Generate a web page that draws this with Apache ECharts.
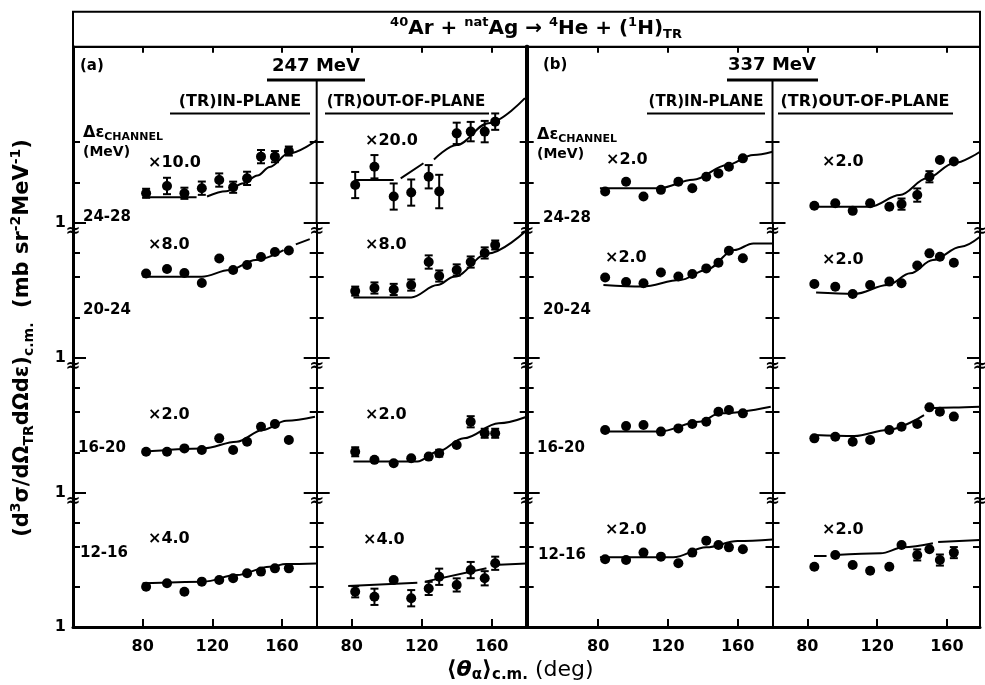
<!DOCTYPE html>
<html>
<head>
<meta charset="utf-8">
<script src="https://cdn.jsdelivr.net/npm/echarts@6.0.0/dist/echarts.min.js"></script>
<style>
  html, body { margin: 0; padding: 0; background: #fff; }
  #chart { width: 985px; height: 685px; }
</style>
</head>
<body>
<div id="chart"></div>
<script>
const FONT = 'DejaVu Sans';

const channels = ['24-28', '20-24', '16-20', '12-16'];
const xTickValues = [80, 120, 160];
const yTickTop = [2, 4];
const yTickValues = [2, 4, 6];

// alpha angles of the points (deg), one list per column
const angA_in = [82, 94, 104, 114, 124, 132, 140, 148, 156, 164];
const angA_out = [82, 93, 104, 114, 124, 130, 140, 148, 156, 162];
const angB_in = [84, 96, 106, 116, 126, 134, 142, 149, 155, 163];
const angB_out = [84, 96, 106, 116, 127, 134, 143, 150, 156, 164];

// plotted cross sections, rows = channels 24-28, 20-24, 16-20, 12-16
const valA_in = [
  [1.66, 1.88, 1.66, 1.81, 2.08, 1.84, 2.14, 3.1, 3.1, 3.41],
  [4.23, 4.56, 4.26, 3.59, 5.46, 4.49, 4.89, 5.6, 6.1, 6.26],
  [2.02, 2.02, 2.14, 2.08, 2.54, 2.08, 2.4, 3.1, 3.24, 2.47],
  [2.0, 2.12, 1.83, 2.18, 2.24, 2.31, 2.52, 2.59, 2.74, 2.74]
];
const valA_out = [
  [1.91, 2.61, 1.57, 1.68, 2.2, 1.71, 4.61, 4.75, 4.75, 5.63],
  [3.13, 3.3, 3.22, 3.47, 5.14, 4.05, 4.49, 5.14, 6.0, 6.87],
  [2.02, 1.76, 1.66, 1.81, 1.86, 1.97, 2.27, 3.37, 2.77, 2.77],
  [1.83, 1.68, 2.24, 1.64, 1.94, 2.37, 2.06, 2.66, 2.31, 2.99]
];
const valB_in = [
  [1.71, 2.02, 1.57, 1.76, 2.02, 1.81, 2.2, 2.33, 2.61, 3.01],
  [3.95, 3.66, 3.58, 4.3, 4.01, 4.19, 4.61, 5.08, 6.23, 5.48],
  [2.93, 3.13, 3.19, 2.85, 3.01, 3.24, 3.37, 4.0, 4.12, 3.89],
  [3.2, 3.16, 3.59, 3.35, 2.99, 3.59, 4.41, 4.09, 3.93, 3.8]
];
const valB_out = [
  [1.34, 1.4, 1.23, 1.4, 1.32, 1.38, 1.61, 2.2, 2.93, 2.85],
  [3.53, 3.37, 2.98, 3.47, 3.68, 3.58, 4.84, 5.96, 5.63, 5.08],
  [2.54, 2.61, 2.4, 2.47, 2.93, 3.1, 3.24, 4.31, 4.0, 3.68],
  [2.82, 3.45, 2.9, 2.63, 2.82, 4.09, 3.45, 3.8, 3.16, 3.59]
];

// error bars as a factor (value / f .. value * f), 1 = no bar drawn
const errA_in = [
  [1.08, 1.15, 1.1, 1.12, 1.12, 1.1, 1.12, 1.12, 1.1, 1.08],
  [1, 1, 1, 1, 1, 1, 1, 1, 1, 1],
  [1, 1, 1, 1, 1, 1, 1, 1, 1, 1],
  [1, 1, 1, 1, 1, 1, 1, 1, 1, 1]
];
const errA_out = [
  [1.25, 1.22, 1.25, 1.25, 1.22, 1.33, 1.2, 1.18, 1.2, 1.15],
  [1.08, 1.1, 1.1, 1.1, 1.12, 1.1, 1.1, 1.1, 1.1, 1.08],
  [1.08, 1, 1, 1, 1, 1.06, 1, 1.1, 1.08, 1.08],
  [1.1, 1.15, 1, 1.15, 1.12, 1.15, 1.12, 1.15, 1.13, 1.12]
];
const errB_in = [
  [1, 1, 1, 1, 1, 1, 1, 1, 1, 1],
  [1, 1, 1, 1, 1, 1, 1, 1, 1, 1],
  [1, 1, 1, 1, 1, 1, 1, 1, 1, 1],
  [1, 1, 1, 1, 1, 1, 1, 1, 1, 1]
];
const errB_out = [
  [1, 1, 1, 1, 1, 1.1, 1.12, 1.1, 1, 1],
  [1, 1, 1, 1, 1, 1, 1, 1, 1, 1],
  [1, 1, 1, 1, 1, 1, 1, 1, 1, 1],
  [1, 1, 1, 1, 1, 1, 1.1, 1, 1.1, 1.1]
];

// fitted curves [deg, value], null value = gap in the drawn line
const fitA_in = [
  [[80, 1.55], [111, 1.55], [114, null], [117, 1.57], [128, 1.72], [138, 1.97], [146, 2.25], [153, 2.6], [164, 3.28], [180, 4.1]],
  [[80, 4.0], [114, 4.0], [130, 4.49], [145, 5.32], [161, 6.3], [165, null], [168, 6.95], [176, 7.6]],
  [[80, 2.02], [115, 2.14], [134, 2.4], [149, 2.93], [162.6, 3.43], [179, 3.67]],
  [[80, 2.12], [115, 2.18], [134, 2.44], [153, 2.82], [162.6, 2.95], [180, 2.98]]
];
const fitA_out = [
  [[82, 2.08], [104, 2.08], [106, null], [108, 2.14], [121, 2.77], [124, null], [127, 2.95], [140, 3.78], [158, 5.48], [179, 8.4]],
  [[81, 2.81], [114, 2.81], [129, 3.47], [138.5, 4.0], [158, 5.95], [179, 8.6]],
  [[81, 1.71], [117.5, 1.71], [129, 2.02], [144, 2.54], [164, 3.28], [180, 3.67]],
  [[78, 2.02], [117.5, 2.14], [120, null], [122, 2.18], [157, 2.74], [159, null], [161, 2.9], [180, 2.98]]
];
const fitB_in = [
  [[81, 1.81], [115, 1.81], [134.5, 2.09], [154, 2.69], [169, 3.19], [180, 3.37]],
  [[83, 3.47], [105.5, 3.38], [127, 3.78], [142, 4.49], [158, 6.3], [169, 7.06], [180, 7.06]],
  [[83, 2.85], [115, 2.85], [138, 3.37], [150, 3.89], [179, 4.36]],
  [[81, 3.31], [123, 3.31], [142, 3.93], [160, 4.38], [180, 4.5]]
];
const fitB_out = [
  [[84, 1.32], [116, 1.32], [133, 1.61], [148.6, 2.14], [164, 2.77], [179, 3.37]],
  [[85, 3.05], [107, 2.98], [126, 3.47], [139, 4.24], [152, 5.32], [168, 6.67], [179, 7.9]],
  [[84, 2.69], [107, 2.64], [126, 2.93], [146.9, 3.78], [147.3, null], [147.8, 4.24], [164, 4.3], [179, 4.36]],
  [[83.8, 3.39], [91, 3.39], [93, null], [96, 3.45], [122, 3.55], [135, 3.93], [152, 4.21], [154, null], [155, 4.3], [179, 4.46]]
];

const multA_in = ['×10.0', '×8.0', '×2.0', '×4.0'];
const multA_out = ['×20.0', '×8.0', '×2.0', '×4.0'];
const multB_in = ['×2.0', '×2.0', '', '×2.0'];
const multB_out = ['×2.0', '×2.0', '', '×2.0'];

const columns = [
  { ang: angA_in, val: valA_in, err: errA_in, fit: fitA_in, mult: multA_in },
  { ang: angA_out, val: valA_out, err: errA_out, fit: fitA_out, mult: multA_out },
  { ang: angB_in, val: valB_in, err: errB_in, fit: fitB_in, mult: multB_in },
  { ang: angB_out, val: valB_out, err: errB_out, fit: fitB_out, mult: multB_out }
];

// layout (pixels)
const colBox = [
  { left: 73, width: 243.7, min: 40, max: 180, lineL: 3, lineR: 2 },
  { left: 316.7, width: 210, min: 60, max: 180, lineL: 2, lineR: 4 },
  { left: 526.7, width: 245.8, min: 39, max: 180, lineL: 4, lineR: 2 },
  { left: 772.5, width: 207.5, min: 60, max: 179, lineL: 2, lineR: 2 }
];
const rowBox = [
  { top: 46.7, height: 176.3, max: 20.2 },
  { top: 223, height: 135, max: 10 },
  { top: 358, height: 135, max: 10 },
  { top: 493, height: 134, max: 10 }
];
const multPos = [
  [[148, 163], [148, 245], [148, 415], [148, 539]],
  [[365, 141], [365, 245], [365, 415], [363, 540]],
  [[606, 160], [605, 258], [0, 0], [605, 530]],
  [[822, 162], [822, 260], [0, 0], [822, 530]]
];
const chanPos = [
  [[83, 217], [83, 310], [78, 448], [80, 553]],
  [[543, 218], [543, 310], [537, 448], [538, 555]]
];

const black = '#000';

function renderErr(params, api) {
  const x = api.value(0);
  const lo = api.coord([x, api.value(1)]);
  const hi = api.coord([x, api.value(2)]);
  const w = 4;
  const st = { stroke: black, lineWidth: 2 };
  return {
    type: 'group',
    children: [
      { type: 'line', shape: { x1: lo[0], y1: lo[1], x2: hi[0], y2: hi[1] }, style: st },
      { type: 'line', shape: { x1: lo[0] - w, y1: lo[1], x2: lo[0] + w, y2: lo[1] }, style: st },
      { type: 'line', shape: { x1: hi[0] - w, y1: hi[1], x2: hi[0] + w, y2: hi[1] }, style: st }
    ]
  };
}

const grid = [], xAxis = [], yAxis = [], series = [];

rowBox.forEach((rb, r) => {
  colBox.forEach((cb, c) => {
    const g = grid.length;
    grid.push({ left: cb.left, top: rb.top, width: cb.width, height: rb.height });

    const bottom = r === 3;
    const xi = xAxis.length;
    xAxis.push({
      type: 'value', gridIndex: g, min: cb.min, max: cb.max, position: 'bottom',
      axisLine: { show: bottom, onZero: false, lineStyle: { color: black, width: 3 } },
      axisTick: { show: bottom, inside: true, length: 8, customValues: xTickValues, lineStyle: { color: black, width: 2 } },
      axisLabel: { show: bottom, customValues: xTickValues, margin: 12, color: black, fontFamily: FONT, fontWeight: 'bold', fontSize: 16 },
      splitLine: { show: false }
    });
    if (r === 0) {
      xAxis.push({
        type: 'value', gridIndex: g, min: cb.min, max: cb.max, position: 'top',
        axisLine: { show: true, onZero: false, lineStyle: { color: black, width: 2 } },
        axisTick: { show: true, inside: true, length: 6, customValues: xTickValues, lineStyle: { color: black, width: 2 } },
        axisLabel: { show: false },
        splitLine: { show: false }
      });
    }

    const ticks = r === 0 ? yTickTop : yTickValues;
    const hideL = r === 0 && (c === 1 || c === 3);
    const hideR = r === 0 && (c === 0 || c === 2);
    const base = { type: 'log', gridIndex: g, min: 1, max: rb.max, splitLine: { show: false } };

    const yi = yAxis.length;
    yAxis.push(Object.assign({}, base, {
      position: 'left',
      axisLine: { show: !hideL, onZero: false, lineStyle: { color: black, width: cb.lineL } },
      axisTick: { show: true, inside: true, length: 7, customValues: ticks, lineStyle: { color: black, width: 2 } },
      axisLabel: { show: false }
    }));
    yAxis.push(Object.assign({}, base, {
      position: 'left',
      axisLine: { show: false },
      axisTick: { show: true, inside: true, length: 13, customValues: [1], lineStyle: { color: black, width: 2 } },
      axisLabel: { show: c === 0, customValues: [1], margin: 7, color: black, fontFamily: FONT, fontWeight: 'bold', fontSize: 16 }
    }));
    yAxis.push(Object.assign({}, base, {
      position: 'right',
      axisLine: { show: !hideR, onZero: false, lineStyle: { color: black, width: cb.lineR } },
      axisTick: { show: true, inside: true, length: 7, customValues: ticks, lineStyle: { color: black, width: 2 } },
      axisLabel: { show: false }
    }));
    yAxis.push(Object.assign({}, base, {
      position: 'right',
      axisLine: { show: false },
      axisTick: { show: true, inside: true, length: 13, customValues: [1], lineStyle: { color: black, width: 2 } },
      axisLabel: { show: false }
    }));

    const p = columns[c];
    series.push({
      type: 'line', xAxisIndex: xi, yAxisIndex: yi, data: p.fit[r],
      smooth: 0.35, smoothMonotone: 'x', showSymbol: false, connectNulls: false,
      lineStyle: { color: black, width: 2 }, silent: true, z: 2
    });
    const errData = [];
    p.ang.forEach((a, i) => {
      const f = p.err[r][i];
      if (f > 1) errData.push([a, p.val[r][i] / f, p.val[r][i] * f]);
    });
    series.push({
      type: 'custom', xAxisIndex: xi, yAxisIndex: yi, data: errData,
      renderItem: renderErr, encode: { x: 0, y: [1, 2] }, silent: true, z: 3
    });
    series.push({
      type: 'scatter', xAxisIndex: xi, yAxisIndex: yi,
      data: p.ang.map((a, i) => [a, p.val[r][i]]),
      symbol: 'circle', symbolSize: 10, itemStyle: { color: black, opacity: 1 }, silent: true, z: 4
    });
  });
});

// texts and frame decorations
const graphic = [];
function txt(x, y, text, font, align, extra) {
  graphic.push(Object.assign({
    type: 'text', x: x, y: y, silent: true,
    style: Object.assign({
      text: text, fill: black, font: font,
      align: align || 'left', verticalAlign: 'middle',
      textAlign: align || 'left', textVerticalAlign: 'middle'
    }, (extra && extra.style) || {})
  }, extra && extra.rotation ? { rotation: extra.rotation } : {}));
}
function line(x1, y1, x2, y2, w) {
  graphic.push({ type: 'line', silent: true, shape: { x1, y1, x2, y2 }, style: { stroke: black, lineWidth: w } });
}

graphic.push({ type: 'rect', silent: true, shape: { x: 73, y: 11.7, width: 907, height: 35 },
  style: { fill: 'none', stroke: black, lineWidth: 2 } });

const sup = { fontFamily: FONT, fontWeight: 'bold', fontSize: 13, lineHeight: 13, verticalAlign: 'top' };
const sub = { fontFamily: FONT, fontWeight: 'bold', fontSize: 13, lineHeight: 13, verticalAlign: 'bottom' };
const mid = { fontFamily: FONT, fontWeight: 'bold', fontSize: 20, lineHeight: 25 };

txt(536, 29, '{n|40}{m|Ar + }{n|nat}{m|Ag → }{n|4}{m|He + (}{n|1}{m|H)}{s|TR}', 'bold 20px ' + FONT, 'center',
  { style: { rich: { n: sup, m: mid, s: sub } } });

const boldF = (s) => 'bold ' + s + 'px ' + FONT;
txt(80, 66, '(a)', boldF(15));
txt(543, 65, '(b)', boldF(15));
txt(316, 66, '247 MeV', boldF(18), 'center');
txt(772, 65, '337 MeV', boldF(18), 'center');
line(267, 80, 365, 80, 3);
line(727, 80, 818, 80, 3);
line(316.7, 80, 316.7, 223, 2);
line(772.5, 80, 772.5, 223, 2);

const headers = [
  [240, 170, 310, '(TR)IN-PLANE', 16], [406, 325, 489, '(TR)OUT-OF-PLANE', 15],
  [706, 647, 765, '(TR)IN-PLANE', 15], [865, 778, 953, '(TR)OUT-OF-PLANE', 16]
];
headers.forEach(h => {
  txt(h[0], 102, h[3], boldF(h[4]), 'center');
  line(h[1], 113.5, h[2], 113.5, 2);
});

const big = { fontFamily: FONT, fontWeight: 'bold', fontSize: 16, lineHeight: 20 };
const small = { fontFamily: FONT, fontWeight: 'bold', fontSize: 11, lineHeight: 12, verticalAlign: 'bottom' };
[[83, 133], [537, 135]].forEach(pos => {
  txt(pos[0], pos[1], '{a|Δε}{b|CHANNEL}', boldF(16), 'left', { style: { rich: { a: big, b: small } } });
  txt(pos[0], pos[1] + 19, '(MeV)', boldF(14));
});

chanPos.forEach(side => side.forEach((pos, r) => txt(pos[0], pos[1], channels[r], boldF(15))));

columns.forEach((p, c) => p.mult.forEach((m, r) => {
  if (m) txt(multPos[c][r][0], multPos[c][r][1], m, boldF(16));
}));

const breakX = [73, 316.7, 526.7, 772.5, 980];
const breakY = [231, 366, 501];
breakX.forEach(x => breakY.forEach(y => txt(x, y, '≈', boldF(18), 'center')));

// axis titles
const ym = { fontFamily: FONT, fontWeight: 'bold', fontSize: 21, lineHeight: 27 };
const yn = { fontFamily: FONT, fontWeight: 'bold', fontSize: 14, lineHeight: 14, verticalAlign: 'top' };
const ys = { fontFamily: FONT, fontWeight: 'bold', fontSize: 14, lineHeight: 14, verticalAlign: 'bottom' };
txt(23, 338, '{m|(d}{n|3}{m|σ/dΩ}{s|TR}{m|dΩdε)}{s|c.m.}{m|  (mb sr}{n|-2}{m|MeV}{n|-1}{m|)}', boldF(21), 'center',
  { rotation: Math.PI / 2, style: { rich: { m: ym, n: yn, s: ys } } });

const xm = { fontFamily: FONT, fontWeight: 'bold', fontSize: 22, lineHeight: 26 };
const xt = { fontFamily: FONT, fontWeight: 'bold', fontStyle: 'italic', fontSize: 22, lineHeight: 26 };
const xs = { fontFamily: FONT, fontWeight: 'bold', fontSize: 15, lineHeight: 15, verticalAlign: 'bottom' };
const xd = { fontFamily: FONT, fontSize: 22, lineHeight: 26 };
txt(520, 670, '{m|⟨}{t|θ}{s|α}{m|⟩}{s|c.m.}{d| (deg)}', boldF(22), 'center',
  { style: { rich: { m: xm, t: xt, s: xs, d: xd } } });

const chart = echarts.init(document.getElementById('chart'));
chart.setOption({
  animation: false,
  backgroundColor: '#fff',
  grid: grid,
  xAxis: xAxis,
  yAxis: yAxis,
  series: series,
  graphic: graphic
});
</script>
</body>
</html>
